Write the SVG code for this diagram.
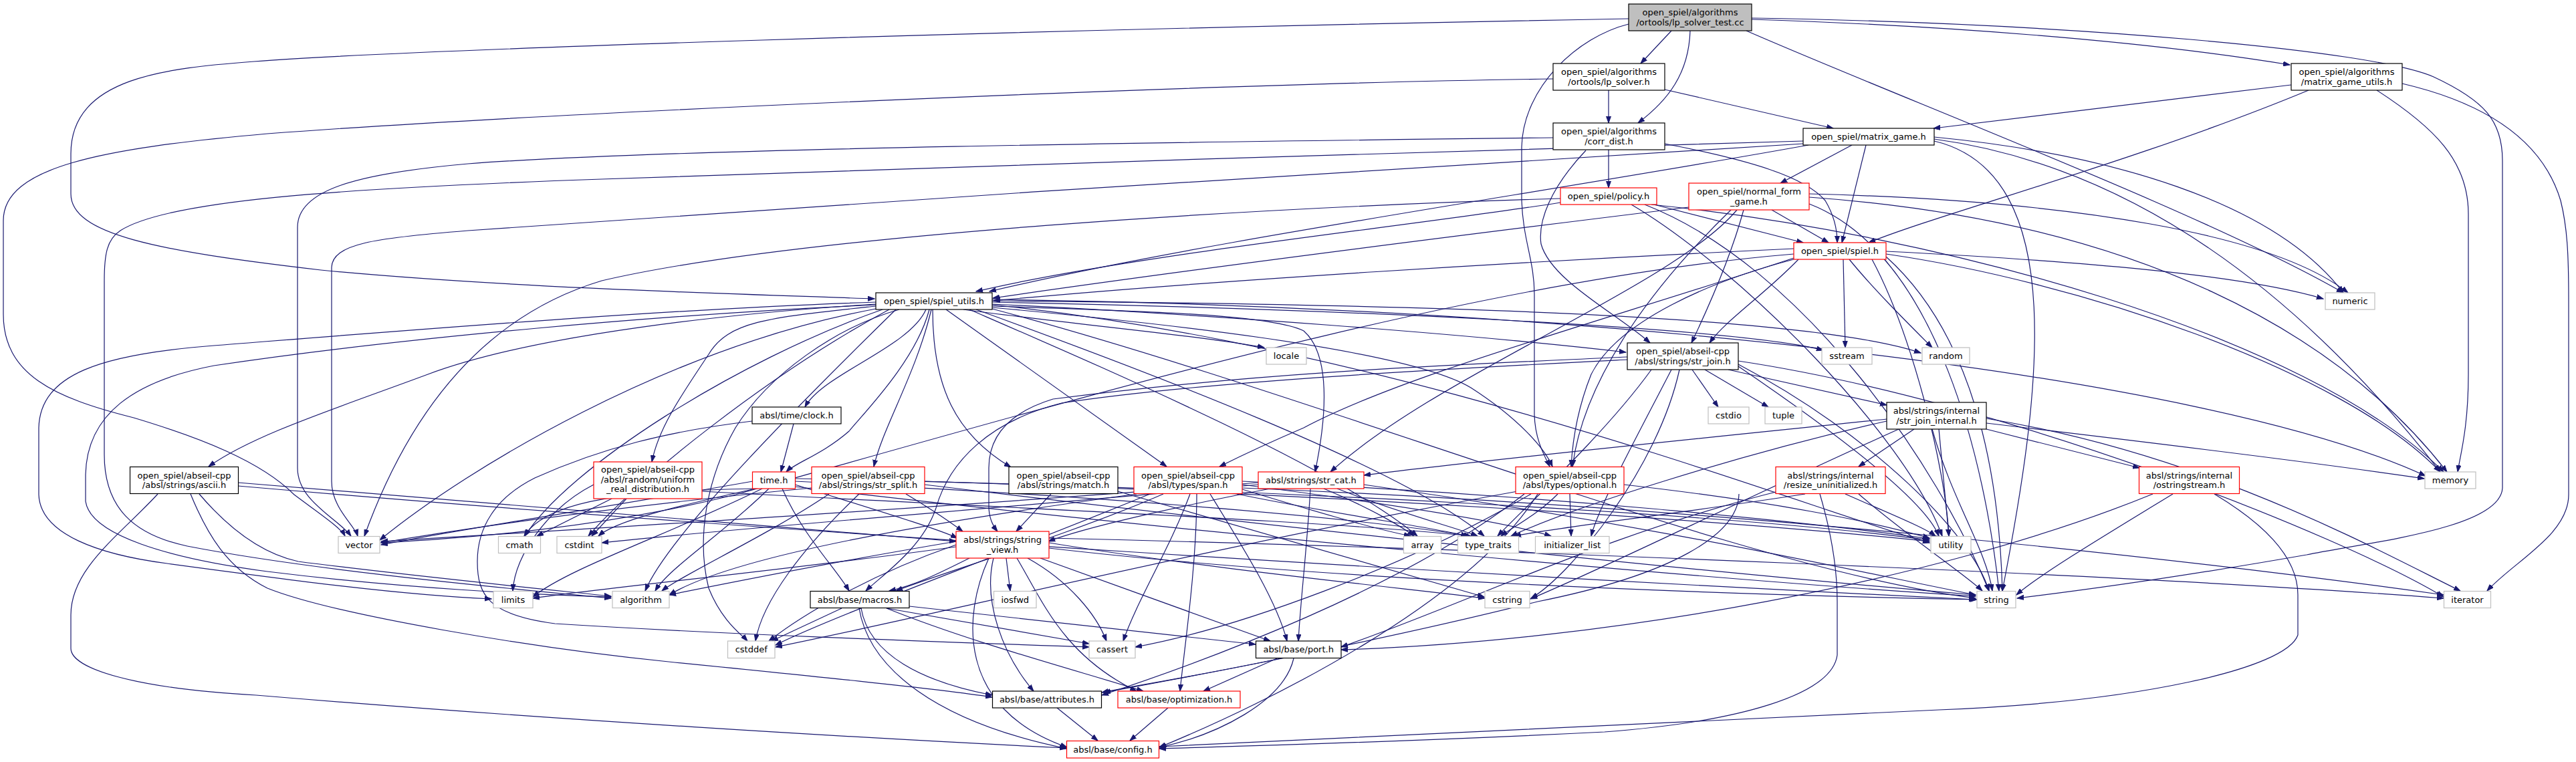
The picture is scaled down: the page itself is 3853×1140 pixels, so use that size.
<svg xmlns="http://www.w3.org/2000/svg" width="3853" height="1140" viewBox="0 0 3853 1140">
<style>
.node rect{fill:#ffffff;stroke:#000000;stroke-width:1.2}
.node.sys rect{stroke:#bfbfbf}
.node.red rect{stroke:#ff0000}
.node.root rect{fill:#bfbfbf}
.node text{font-family:"DejaVu Sans","Liberation Sans",sans-serif;font-size:13px;text-anchor:middle;fill:#000000}
#edges path{fill:none;stroke:#191970;stroke-width:1.2;marker-end:url(#a)}
</style>
<defs>
<marker id="a" markerUnits="userSpaceOnUse" markerWidth="11" markerHeight="8" refX="10" refY="4" orient="auto"><path d="M0,0.5 L10,4 L0,7.5 z" fill="#191970" stroke="#191970" stroke-width="1"/></marker>
</defs>
<rect width="3853" height="1140" fill="#ffffff"/>
<g id="edges">
<path d="M2500,46 L2454,95"/>
<path d="M2528,46 C2526,110 2495,150 2450,184"/>
<path d="M2620,29 C2900,38 3200,60 3425,97"/>
<path d="M2612,46 C2850,150 3300,320 3505,438"/>
<path d="M2620,27 C3100,35 3550,75 3640,115 C3715,150 3743,180 3743,240 L3743,730 C3740,790 3550,810 3450,830 C3250,865 3100,885 3017,895"/>
<path d="M2436,28 C1500,45 600,75 380,92 C250,102 106,115 106,230 L106,290 C106,350 230,375 480,404 C750,430 1100,440 1308,447"/>
<path d="M2436,36 C2360,55 2278,130 2276,220 L2276,300 C2278,360 2295,390 2295,440 L2295,620 C2296,660 2312,685 2318,698"/>
<path d="M2406,135 L2406,184"/>
<path d="M2490,134 L2742,192"/>
<path d="M2323,118 C1800,125 800,170 400,200 C150,222 5,250 5,330 L5,470 C5,560 80,595 200,625 C300,655 390,690 440,740 C480,770 510,790 516,802"/>
<path d="M2406,224 L2406,281"/>
<path d="M2490,215 C2620,240 2700,265 2730,300 C2745,325 2748,345 2748,363"/>
<path d="M2323,206 C1800,212 1000,222 700,245 C530,260 445,285 445,340 L445,700 C445,750 505,775 525,802"/>
<path d="M2372,225 C2320,280 2300,330 2305,365 C2320,420 2420,470 2468,513"/>
<path d="M2770,217 L2663,274"/>
<path d="M2791,217 L2755,363"/>
<path d="M2705,217 C2300,290 1800,360 1480,436"/>
<path d="M2697,215 C2300,240 1300,300 700,345 C560,356 497,365 496,400 L496,720 C496,760 530,785 535,802"/>
<path d="M2697,211 C2200,225 1400,250 900,268 C500,282 250,300 180,345 C160,358 156,380 156,420 L156,680 C156,760 200,800 280,817 C450,850 700,875 914,895"/>
<path d="M2893,205 C3150,230 3400,300 3505,438"/>
<path d="M2893,208 C3200,250 3450,450 3650,706"/>
<path d="M2893,211 C3100,260 3050,600 2995,884"/>
<path d="M3427,127 L2892,192"/>
<path d="M3453,135 C3200,240 2900,320 2795,363"/>
<path d="M3555,135 C3640,190 3692,240 3692,320 L3692,560 C3692,640 3680,680 3676,706"/>
<path d="M3593,125 C3700,150 3800,200 3830,300 C3840,340 3842,380 3842,450 L3842,740 C3842,800 3760,840 3720,884"/>
<path d="M2474,306 L2697,363"/>
<path d="M2334,303 C2100,340 1700,380 1460,436"/>
<path d="M2334,297 C1900,310 1200,350 900,420 C700,480 600,650 545,802"/>
<path d="M2470,306 C2900,350 3450,500 3655,706"/>
<path d="M2460,306 C2700,400 2900,700 2975,884"/>
<path d="M2440,306 C2600,400 2850,650 2905,802"/>
<path d="M2650,314 L2735,363"/>
<path d="M2526,310 C2200,350 1800,400 1485,446"/>
<path d="M2608,314 C2590,380 2560,450 2530,513"/>
<path d="M2598,314 C2500,430 2150,560 1990,706"/>
<path d="M2589,314 C2480,420 2370,560 2352,698"/>
<path d="M2706,290 C3100,300 3400,350 3512,438"/>
<path d="M2706,295 C3200,330 3500,500 3660,706"/>
<path d="M2706,305 C2900,380 2970,700 2990,884"/>
<path d="M2683,372 C2300,390 1800,420 1486,450"/>
<path d="M2690,388 C2640,440 2580,480 2557,513"/>
<path d="M2683,388 C2560,420 2420,480 2380,560 C2360,610 2352,660 2350,698"/>
<path d="M2683,386 C2400,480 2100,560 1950,640 C1880,670 1840,690 1824,698"/>
<path d="M2757,388 L2760,520"/>
<path d="M2766,388 C2800,430 2850,480 2890,520"/>
<path d="M2821,376 C3100,390 3350,410 3475,447"/>
<path d="M2821,380 C3100,420 3500,550 3650,706"/>
<path d="M2821,384 C2950,500 2990,700 2995,884"/>
<path d="M2800,388 C2860,500 2910,700 2915,802"/>
<path d="M2683,380 C2200,420 1600,600 1100,740 C900,790 700,805 570,812"/>
<path d="M1385,463 C1360,520 1230,560 1204,609"/>
<path d="M1390,463 C1370,540 1290,620 1270,645 C1230,680 1190,692 1176,706"/>
<path d="M1393,463 C1370,560 1320,640 1307,698"/>
<path d="M1395,463 C1395,580 1430,650 1512,699"/>
<path d="M1415,463 L1745,698"/>
<path d="M1441,463 C1600,485 1780,500 1891,520"/>
<path d="M1310,458 C1150,475 1090,480 1060,530 C1020,590 985,640 975,691"/>
<path d="M1310,455 C1100,468 800,500 640,560 C500,612 380,650 312,698"/>
<path d="M1484,458 C1700,465 1900,470 1950,495 C1990,530 1985,620 1967,706"/>
<path d="M1484,455 C1800,470 2200,500 2432,527"/>
<path d="M1484,460 C1700,480 2100,520 2200,580 C2270,625 2310,670 2322,698"/>
<path d="M1484,452 C2000,462 2600,490 2727,524"/>
<path d="M1484,450 C2100,455 2700,470 2873,528"/>
<path d="M1484,448 C2400,460 3300,560 3628,712"/>
<path d="M1484,462 C2000,600 2600,850 2955,895"/>
<path d="M1484,456 C2100,520 2700,760 2886,812"/>
<path d="M1310,462 C1000,520 700,700 568,808"/>
<path d="M1320,463 C1100,540 850,700 785,802"/>
<path d="M1330,463 C1150,560 950,720 880,802"/>
<path d="M1345,463 C1250,490 1150,560 1100,640 C1060,710 1040,800 1060,880 C1080,930 1110,950 1118,959"/>
<path d="M1340,463 C1200,600 1000,800 965,884"/>
<path d="M1460,463 C1700,550 2100,700 2220,802"/>
<path d="M1450,463 C1650,550 2000,700 2120,802"/>
<path d="M1310,452 C1000,462 600,495 320,517 C150,530 60,560 58,640 L58,740 C60,800 150,830 250,843 C450,870 600,890 735,896"/>
<path d="M1310,456 C1000,470 600,505 320,547 C200,570 130,620 128,710 L128,750 C135,800 250,835 400,855 C600,880 800,890 914,893"/>
<path d="M2531,553 L2570,609"/>
<path d="M2550,553 L2645,609"/>
<path d="M2585,553 L2822,606"/>
<path d="M2434,534 C2200,545 1900,555 1575,597 C1500,620 1479,660 1479,700 L1479,760 C1480,780 1488,790 1492,795"/>
<path d="M2512,553 C2480,700 2350,860 2290,895"/>
<path d="M2500,553 C2450,650 2390,760 2380,802"/>
<path d="M2600,540 C3000,600 3500,800 3655,893"/>
<path d="M2600,545 C2800,650 2950,800 2975,884"/>
<path d="M2470,553 C2400,650 2280,760 2240,802"/>
<path d="M2600,548 C2750,650 2880,750 2900,802"/>
<path d="M2434,538 C2200,550 1800,570 1588,603 C1480,630 1420,690 1400,760 C1380,820 1320,860 1295,884"/>
<path d="M2822,627 C2600,650 2200,690 2040,711"/>
<path d="M2863,642 L2780,698"/>
<path d="M2971,642 L3200,700"/>
<path d="M2971,633 C3200,660 3450,690 3626,716"/>
<path d="M2890,642 C2920,750 2970,820 2980,884"/>
<path d="M2900,642 L2915,802"/>
<path d="M2971,626 C3300,680 3550,820 3680,884"/>
<path d="M2822,630 C2600,680 2350,760 2260,802"/>
<path d="M2840,642 C2600,750 2400,850 2289,896"/>
<path d="M915,746 L803,802"/>
<path d="M937,746 L885,802"/>
<path d="M888,725 C820,760 770,830 767,884"/>
<path d="M1050,735 C1500,760 2000,780 2200,802"/>
<path d="M236,739 C180,800 106,850 106,920 L106,970 C106,1000 200,1030 383,1040 C800,1075 1300,1105 1595,1119"/>
<path d="M285,739 C310,800 340,850 400,880 C500,920 800,970 1000,990 C1200,1010 1400,1030 1484,1043"/>
<path d="M298,739 C350,800 400,830 446,840 C600,860 800,880 914,892"/>
<path d="M356,722 C800,760 1200,790 1430,810"/>
<path d="M356,727 C1200,800 2200,860 2955,897"/>
<path d="M1187,634 L1168,706"/>
<path d="M1125,630 C1000,645 900,670 800,715 C740,745 714,790 714,840 C714,890 730,920 830,933 C1100,950 1400,960 1629,968"/>
<path d="M1126,731 C950,735 820,745 784,802"/>
<path d="M1130,731 C1000,760 920,780 895,802"/>
<path d="M1189,725 C1300,760 1400,790 1432,805"/>
<path d="M1170,731 C1200,800 1250,850 1270,884"/>
<path d="M1140,731 C1000,800 850,850 797,893"/>
<path d="M1150,731 C1080,800 1000,850 980,884"/>
<path d="M1189,728 C1800,800 2600,870 2955,892"/>
<path d="M1189,720 C1600,740 2000,770 2200,802"/>
<path d="M1189,716 C1900,730 2600,770 2886,808"/>
<path d="M1126,720 C900,760 700,790 570,815"/>
<path d="M1355,739 C1390,760 1420,780 1440,795"/>
<path d="M1240,739 C1150,800 1020,860 990,884"/>
<path d="M1285,739 C1200,820 1140,900 1130,959"/>
<path d="M1383,725 C2000,800 2600,860 2955,890"/>
<path d="M1383,720 C2000,740 2600,780 2886,810"/>
<path d="M1214,730 C900,760 700,790 570,812"/>
<path d="M1572,739 L1520,795"/>
<path d="M1672,735 C1900,800 2100,860 2220,893"/>
<path d="M1700,739 C1400,780 1100,830 1001,890"/>
<path d="M1780,739 C1750,820 1700,900 1680,959"/>
<path d="M1720,739 C1500,830 1250,920 1160,965"/>
<path d="M1858,725 C2050,750 2250,780 2320,802"/>
<path d="M1858,730 C2600,760 3300,840 3655,890"/>
<path d="M1850,739 C2000,770 2150,790 2195,802"/>
<path d="M1858,720 C2300,740 2700,780 2886,806"/>
<path d="M1740,739 C1600,800 1400,860 1340,884"/>
<path d="M1790,739 C1790,850 1770,980 1765,1034"/>
<path d="M1810,739 C1860,820 1910,900 1925,959"/>
<path d="M1858,732 C1950,760 2050,790 2110,802"/>
<path d="M1900,731 C1750,760 1620,790 1568,810"/>
<path d="M1980,731 C2050,760 2100,790 2115,802"/>
<path d="M1882,725 C1500,760 1100,790 900,812"/>
<path d="M2040,725 C2500,790 2800,860 2955,890"/>
<path d="M2000,731 C2100,770 2180,790 2210,802"/>
<path d="M1882,722 C1400,760 900,790 570,810"/>
<path d="M1960,731 C1955,820 1945,900 1942,959"/>
<path d="M2429,725 C2650,750 2800,780 2886,805"/>
<path d="M2300,739 C2200,900 1900,1050 1734,1118"/>
<path d="M2290,739 C2100,850 1850,940 1698,968"/>
<path d="M2270,735 C1800,820 1400,920 1160,968"/>
<path d="M2348,739 L2350,802"/>
<path d="M2330,739 C2300,770 2260,790 2245,802"/>
<path d="M2280,739 C2100,880 1800,990 1648,1040"/>
<path d="M2780,739 C2850,800 2940,860 2965,884"/>
<path d="M2760,739 C2830,770 2880,790 2895,802"/>
<path d="M2700,739 C2500,770 2320,790 2265,802"/>
<path d="M2660,735 C2400,800 2200,900 2006,968"/>
<path d="M2722,739 C2740,800 2748,850 2748,900 L2748,980 C2740,1040 2600,1080 2400,1095 C2100,1110 1900,1115 1734,1120"/>
<path d="M2601,739 C2600,800 2500,860 2300,900 C2100,950 1900,990 1651,1036"/>
<path d="M3250,739 C3150,800 3050,860 3016,890"/>
<path d="M3220,739 C2900,870 2400,960 2006,972"/>
<path d="M3312,739 C3380,780 3437,830 3437,890 L3437,950 C3420,1000 3200,1050 2900,1062 C2400,1085 2000,1108 1734,1117"/>
<path d="M1450,835 C1400,860 1370,875 1330,884"/>
<path d="M1505,835 L1511,884"/>
<path d="M1537,835 C1600,870 1640,920 1655,959"/>
<path d="M1556,835 L1900,959"/>
<path d="M1486,835 C1470,900 1500,980 1546,1034"/>
<path d="M1521,835 C1560,900 1590,980 1700,1034"/>
<path d="M1479,835 C1440,920 1430,1060 1596,1118"/>
<path d="M1430,815 C1300,860 1200,920 1150,959"/>
<path d="M1430,810 C1250,840 1100,870 1001,890"/>
<path d="M1430,818 C1200,850 900,880 797,895"/>
<path d="M1569,812 C1800,850 2100,880 2221,895"/>
<path d="M1569,820 C2000,870 2600,890 2957,897"/>
<path d="M1569,805 C2200,820 3200,860 3655,895"/>
<path d="M1259,910 L1154,959"/>
<path d="M1326,910 L1629,963"/>
<path d="M1360,907 L1878,964"/>
<path d="M1288,910 C1300,980 1380,1020 1484,1040"/>
<path d="M1326,910 C1450,960 1600,1000 1710,1034"/>
<path d="M1285,910 C1300,1000 1400,1080 1596,1120"/>
<path d="M1920,984 C1800,1010 1700,1025 1648,1036"/>
<path d="M1910,985 L1800,1034"/>
<path d="M1935,985 C1920,1050 1820,1100 1734,1118"/>
<path d="M1581,1059 L1642,1108"/>
<path d="M1747,1059 L1690,1108"/>
</g>
<g id="n_root" class="node root"><rect x="2436" y="6" width="184" height="40"/><text x="2528" y="23">open_spiel/algorithms</text><text x="2528" y="37.5">/ortools/lp_solver_test.cc</text></g>
<g id="n_lp_solver" class="node"><rect x="2323" y="95" width="167" height="40"/><text x="2406.5" y="112">open_spiel/algorithms</text><text x="2406.5" y="126.5">/ortools/lp_solver.h</text></g>
<g id="n_matrix_game_utils" class="node"><rect x="3427" y="95" width="166" height="40"/><text x="3510" y="112">open_spiel/algorithms</text><text x="3510" y="126.5">/matrix_game_utils.h</text></g>
<g id="n_corr_dist" class="node"><rect x="2323" y="184" width="167" height="40"/><text x="2406.5" y="201">open_spiel/algorithms</text><text x="2406.5" y="215.5">/corr_dist.h</text></g>
<g id="n_matrix_game" class="node"><rect x="2697" y="192" width="196" height="25"/><text x="2795" y="209">open_spiel/matrix_game.h</text></g>
<g id="n_policy" class="node red"><rect x="2334" y="281" width="144" height="25"/><text x="2406" y="298">open_spiel/policy.h</text></g>
<g id="n_normal_form_game" class="node red"><rect x="2526" y="274" width="180" height="40"/><text x="2616" y="291">open_spiel/normal_form</text><text x="2616" y="305.5">_game.h</text></g>
<g id="n_spiel" class="node red"><rect x="2683" y="363" width="138" height="25"/><text x="2752" y="380">open_spiel/spiel.h</text></g>
<g id="n_spiel_utils" class="node"><rect x="1310" y="438" width="174" height="25"/><text x="1397" y="455">open_spiel/spiel_utils.h</text></g>
<g id="n_numeric" class="node sys"><rect x="3478" y="438" width="74" height="25"/><text x="3515" y="455">numeric</text></g>
<g id="n_str_join" class="node"><rect x="2434" y="513" width="166" height="40"/><text x="2517" y="530">open_spiel/abseil-cpp</text><text x="2517" y="544.5">/absl/strings/str_join.h</text></g>
<g id="n_locale" class="node sys"><rect x="1894" y="520" width="60" height="25"/><text x="1924" y="537">locale</text></g>
<g id="n_sstream" class="node sys"><rect x="2725" y="520" width="75" height="25"/><text x="2762.5" y="537">sstream</text></g>
<g id="n_random" class="node sys"><rect x="2875" y="520" width="71" height="25"/><text x="2910.5" y="537">random</text></g>
<g id="n_clock" class="node"><rect x="1125" y="609" width="133" height="25"/><text x="1191.5" y="626">absl/time/clock.h</text></g>
<g id="n_cstdio" class="node sys"><rect x="2555" y="609" width="61" height="25"/><text x="2585.5" y="626">cstdio</text></g>
<g id="n_tuple" class="node sys"><rect x="2640" y="609" width="55" height="25"/><text x="2667.5" y="626">tuple</text></g>
<g id="n_str_join_internal" class="node"><rect x="2822" y="602" width="149" height="40"/><text x="2896.5" y="619">absl/strings/internal</text><text x="2896.5" y="633.5">/str_join_internal.h</text></g>
<g id="n_uniform_real_distribution" class="node red"><rect x="888" y="691" width="162" height="55"/><text x="969" y="707">open_spiel/abseil-cpp</text><text x="969" y="721.5">/absl/random/uniform</text><text x="969" y="736">_real_distribution.h</text></g>
<g id="n_ascii" class="node"><rect x="194.5" y="698.5" width="162" height="40"/><text x="275.5" y="715.5">open_spiel/abseil-cpp</text><text x="275.5" y="730">/absl/strings/ascii.h</text></g>
<g id="n_time" class="node red"><rect x="1125.5" y="706" width="64" height="25"/><text x="1157.5" y="723">time.h</text></g>
<g id="n_str_split" class="node red"><rect x="1214" y="698.5" width="169" height="40"/><text x="1298.5" y="715.5">open_spiel/abseil-cpp</text><text x="1298.5" y="730">/absl/strings/str_split.h</text></g>
<g id="n_match" class="node"><rect x="1509" y="698.5" width="163" height="40"/><text x="1590.5" y="715.5">open_spiel/abseil-cpp</text><text x="1590.5" y="730">/absl/strings/match.h</text></g>
<g id="n_span" class="node red"><rect x="1696" y="698.5" width="162" height="40"/><text x="1777" y="715.5">open_spiel/abseil-cpp</text><text x="1777" y="730">/absl/types/span.h</text></g>
<g id="n_str_cat" class="node red"><rect x="1882" y="706" width="158" height="25"/><text x="1961" y="723">absl/strings/str_cat.h</text></g>
<g id="n_optional" class="node red"><rect x="2267" y="698.5" width="162" height="40"/><text x="2348" y="715.5">open_spiel/abseil-cpp</text><text x="2348" y="730">/absl/types/optional.h</text></g>
<g id="n_resize_uninitialized" class="node red"><rect x="2656" y="698.5" width="164" height="40"/><text x="2738" y="715.5">absl/strings/internal</text><text x="2738" y="730">/resize_uninitialized.h</text></g>
<g id="n_ostringstream" class="node red"><rect x="3199.5" y="698.5" width="150" height="40"/><text x="3274.5" y="715.5">absl/strings/internal</text><text x="3274.5" y="730">/ostringstream.h</text></g>
<g id="n_memory" class="node sys"><rect x="3627" y="706" width="76" height="25"/><text x="3665" y="723">memory</text></g>
<g id="n_vector" class="node sys"><rect x="506" y="802.5" width="62" height="25"/><text x="537" y="819.5">vector</text></g>
<g id="n_cmath" class="node sys"><rect x="745.5" y="802.5" width="63" height="25"/><text x="777" y="819.5">cmath</text></g>
<g id="n_cstdint" class="node sys"><rect x="833" y="802.5" width="67" height="25"/><text x="866.5" y="819.5">cstdint</text></g>
<g id="n_string_view" class="node red"><rect x="1430" y="795" width="139" height="40"/><text x="1499.5" y="812">absl/strings/string</text><text x="1499.5" y="826.5">_view.h</text></g>
<g id="n_array" class="node sys"><rect x="2099.5" y="802.5" width="56" height="25"/><text x="2127.5" y="819.5">array</text></g>
<g id="n_type_traits" class="node sys"><rect x="2180.5" y="802.5" width="91" height="25"/><text x="2226" y="819.5">type_traits</text></g>
<g id="n_initializer_list" class="node sys"><rect x="2296.5" y="802.5" width="110.5" height="25"/><text x="2351.75" y="819.5">initializer_list</text></g>
<g id="n_utility" class="node sys"><rect x="2888" y="802.5" width="60" height="25"/><text x="2918" y="819.5">utility</text></g>
<g id="n_limits" class="node sys"><rect x="738" y="884.5" width="59" height="25"/><text x="767.5" y="901.5">limits</text></g>
<g id="n_algorithm" class="node sys"><rect x="916" y="884.5" width="85" height="25"/><text x="958.5" y="901.5">algorithm</text></g>
<g id="n_macros" class="node"><rect x="1212" y="884.5" width="148" height="25"/><text x="1286" y="901.5">absl/base/macros.h</text></g>
<g id="n_iosfwd" class="node sys"><rect x="1486.5" y="884.5" width="63.5" height="25"/><text x="1518.25" y="901.5">iosfwd</text></g>
<g id="n_cstring" class="node sys"><rect x="2221" y="884.5" width="67" height="25"/><text x="2254.5" y="901.5">cstring</text></g>
<g id="n_string" class="node sys"><rect x="2957" y="884.5" width="58" height="25"/><text x="2986" y="901.5">string</text></g>
<g id="n_iterator" class="node sys"><rect x="3655.5" y="884.5" width="70" height="25"/><text x="3690.5" y="901.5">iterator</text></g>
<g id="n_cstddef" class="node sys"><rect x="1088.5" y="959" width="70.5" height="25.5"/><text x="1123.75" y="976">cstddef</text></g>
<g id="n_cassert" class="node sys"><rect x="1629" y="959" width="69" height="25.5"/><text x="1663.5" y="976">cassert</text></g>
<g id="n_port" class="node"><rect x="1878.5" y="959" width="127.5" height="25.5"/><text x="1942.25" y="976">absl/base/port.h</text></g>
<g id="n_attributes" class="node"><rect x="1484.5" y="1034" width="163" height="25"/><text x="1566" y="1051">absl/base/attributes.h</text></g>
<g id="n_optimization" class="node red"><rect x="1672" y="1034" width="183" height="25"/><text x="1763.5" y="1051">absl/base/optimization.h</text></g>
<g id="n_config" class="node red"><rect x="1595.5" y="1108.5" width="138" height="25.5"/><text x="1664.5" y="1125.5">absl/base/config.h</text></g>
</svg>
